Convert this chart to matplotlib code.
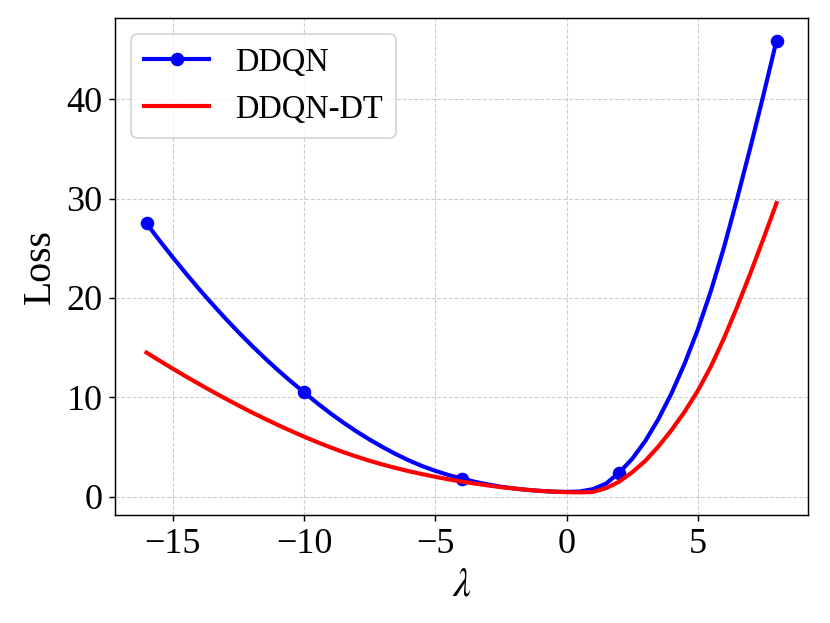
import numpy as np
import matplotlib
matplotlib.use("Agg")
import matplotlib.pyplot as plt

plt.rcParams["font.family"] = ["Liberation Serif", "DejaVu Serif"]
plt.rcParams["mathtext.fontset"] = "stix"

# lambda values (step 0.5) and loss
lam = [-16, -15.5, -15, -14.5, -14, -13.5, -13, -12.5, -12, -11.5, -11, -10.5,
       -10, -9.5, -9, -8.5, -8, -7.5, -7, -6.5, -6, -5.5, -5, -4.5,
       -4, -3.5, -3, -2.5, -2, -1.5, -1, -0.5, 0, 0.5, 1, 1.5,
       2, 2.5, 3, 3.5, 4, 4.5, 5, 5.5, 6, 6.5, 7, 7.5, 8]
loss_ddqn = [27.5, 25.76, 24.09, 22.47, 20.9, 19.4, 17.95, 16.56, 15.23, 13.96, 12.75, 11.6,
             10.5, 9.42, 8.4, 7.45, 6.56, 5.74, 4.98, 4.28, 3.64, 3.08, 2.6, 2.18,
             1.82, 1.5, 1.23, 1.0, 0.82, 0.68, 0.58, 0.51, 0.48, 0.52, 0.75, 1.3,
             2.4, 3.8, 5.6, 7.8, 10.4, 13.4, 16.8, 20.7, 25.1, 30.0, 35.1, 40.4, 45.9]
loss_ddqn_dt = [14.5, 13.68, 12.88, 12.1, 11.34, 10.6, 9.88, 9.18, 8.5, 7.85, 7.22, 6.62,
                6.04, 5.49, 4.97, 4.48, 4.03, 3.61, 3.23, 2.88, 2.56, 2.27, 2.0, 1.74,
                1.52, 1.32, 1.13, 0.96, 0.82, 0.69, 0.58, 0.5, 0.45, 0.43, 0.47, 0.85,
                1.5, 2.45, 3.6, 5.05, 6.7, 8.55, 10.65, 13.1, 15.95, 19.1, 22.45, 25.95, 29.55]

fig, ax = plt.subplots(figsize=(830 / 130, 623 / 130), dpi=130)
fig.subplots_adjust(left=0.1386, right=0.9735, top=0.971, bottom=0.1734)

ax.plot(lam, loss_ddqn, color="blue", lw=2.3, marker="o", ms=6.5, markevery=12, label="DDQN")
ax.plot(lam, loss_ddqn_dt, color="red", lw=2.3, label="DDQN-DT")

ax.set_xlabel(r"$\lambda$", fontsize=22)
ax.set_ylabel("Loss", fontsize=22)
ax.tick_params(labelsize=20)
ax.set_xticks([-15, -10, -5, 0, 5])
ax.set_yticks([0, 10, 20, 30, 40])
ax.grid(True, linestyle="--", color="#b0b0b0", alpha=0.6, lw=0.6)
ax.legend(loc="upper left", fontsize=18)

fig.savefig("out.png", dpi=130)
